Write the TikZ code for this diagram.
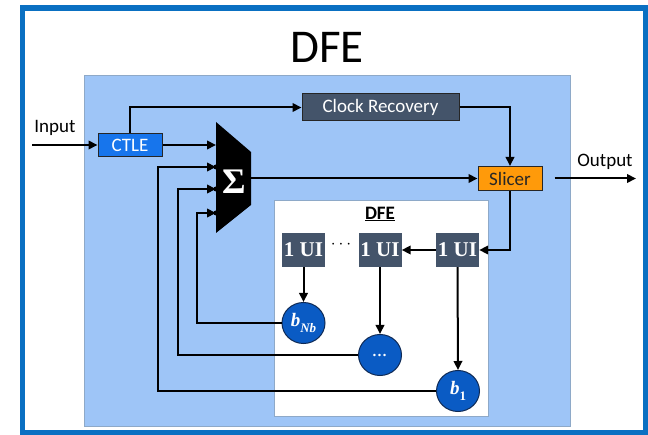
\documentclass[tikz,border=0pt]{standalone}
\usepackage{fontspec}
\setmainfont{Carlito}
\newfontfamily\serifnum{Liberation Serif}
\usetikzlibrary{arrows.meta,shapes.geometric}
\definecolor{frameblue}{HTML}{0A70C2}
\definecolor{panelblue}{HTML}{9EC5F7}
\definecolor{paneledge}{HTML}{8EA9C8}
\definecolor{slate}{HTML}{44546A}
\definecolor{ctleblue}{HTML}{1775EC}
\definecolor{slicerorange}{HTML}{FF9A0A}
\definecolor{tapblue}{HTML}{0A5BC4}
\definecolor{tapedge}{HTML}{0F2A55}
\newcommand{\tapcoef}[2]{b\raisebox{-0.3em}{\fontsize{13}{13}\selectfont #2}}
\tikzset{
  wire/.style={line width=2pt, draw=black},
  arr/.style={wire, -{Triangle[length=9pt,width=8.5pt]}},
  block/.style={draw=black!85, line width=1pt, inner sep=0pt, font=\fontsize{19}{19}\selectfont},
  delaybox/.style={fill=slate, text=white, inner sep=0pt, minimum width=43pt, minimum height=34pt,
    font=\serifnum\bfseries\fontsize{21}{21}\selectfont},
  tap/.style={ellipse, fill=tapblue, draw=tapedge, line width=1pt, minimum width=43pt, minimum height=41pt,
    inner sep=0pt, text=white, font=\serifnum\bfseries\itshape\fontsize{19}{19}\selectfont},
  lbl/.style={font=\fontsize{19}{19}\selectfont},
}
\begin{document}
\begin{tikzpicture}[x=1pt,y=-1pt]
\useasboundingbox (0,0) rectangle (648,435);
% outer frame and panels
\draw[frameblue, line width=5.5pt] (22.5,8) rectangle (645.5,432.5);
\filldraw[fill=panelblue, draw=paneledge, line width=0.6pt] (84,75) rectangle (570,426);
\filldraw[fill=white, draw=paneledge, line width=0.6pt] (274,200) rectangle (488,416);
\node[font=\fontsize{47}{47}\selectfont] (title) at (327,47) {DFE};

% main blocks
\node[block, fill=ctleblue, text=white, minimum width=64pt, minimum height=23pt] (ctle) at (130,145) {CTLE};
\node[block, fill=slate, text=white, minimum width=157pt, minimum height=27pt] (clk) at (380.5,107.5) {Clock Recovery};
\node[block, fill=slicerorange, text=black!85, minimum width=64pt, minimum height=24pt] (slicer) at (510,178.5) {Slicer};

% summing junction
\fill[black] (216,122) -- (251,152) -- (251,205) -- (216,233) -- cycle;
\node[text=white, font=\serifnum\bfseries\fontsize{36}{36}\selectfont] (sigma) at (234,182) {Σ};
\coordinate (s0) at (216,145);
\coordinate (s1) at (216,167);
\coordinate (s2) at (216,189);
\coordinate (s3) at (216,213);
\coordinate (sout) at (251,178.5);
\foreach \p in {s1,s2,s3} \fill (\p) circle (2.5pt);

% input / output
\coordinate (inp) at (32,145);
\coordinate (outp) at (636,178.5);
\node[lbl] (inlbl) at (55,128) {Input};
\node[lbl] (outlbl) at (605,162) {Output};
\draw[arr] (inp) -- (ctle.west);
\draw[arr] (slicer.east) ++(12,0) -- (outp);

% forward path
\draw[arr] (ctle.east) -- (s0);
\draw[arr] (ctle.north) |- (clk.west);
\draw[arr] (clk.east) -| (slicer.north);
\draw[arr] (sout) -- (slicer.west);

% feedback filter
\node[font=\bfseries\fontsize{19}{19}\selectfont] (dfelbl) at (380,214) {\underline{DFE}};
\node[delaybox] (d1) at (303.5,250) {1 UI};
\node[delaybox] (d2) at (380,250) {1 UI};
\node[delaybox] (d3) at (457.5,250) {1 UI};
\node[font=\fontsize{16}{16}\selectfont] (dots) at (341,245) {$\cdots$};
\node[tap] (bN) at (303.5,323) {\tapcoef{b}{Nb}};
\node[tap] (bm) at (380,355) {\raisebox{-4pt}{\fontsize{15}{15}\selectfont\dots}};
\node[tap] (b1) at (458,391) {\tapcoef{b}{\upshape 1}};

\draw[arr] (slicer.south) |- (d3.east);
\draw[arr] (d3.west) -- (d2.east);
\draw[arr] (d1.south) -- (bN.north);
\draw[arr] (d2.south) -- (bm.north);
\draw[arr] (d3.south) -- (b1.north);

\draw[arr] (bN.west) -| (197,213) -- (s3);
\draw[arr] (bm.west) -| (178,189) -- (s2);
\draw[arr] (b1.west) -| (158,167) -- (s1);
\end{tikzpicture}
\end{document}
